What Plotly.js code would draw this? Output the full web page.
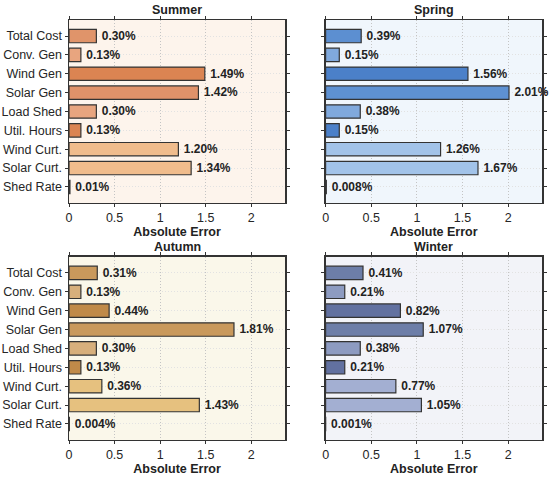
<!DOCTYPE html>
<html><head><meta charset="utf-8">
<script src="https://cdn.plot.ly/plotly-3.0.1.min.js"></script>
<style>html,body{margin:0;padding:0;background:#fff}#chart{width:550px;height:477px}</style>
</head><body><div id="chart"></div>
<script>
const categories = ["Total Cost","Conv. Gen","Wind Gen","Solar Gen","Load Shed","Util. Hours","Wind Curt.","Solar Curt.","Shed Rate"];
const seasons = ["Summer","Spring","Autumn","Winter"];
const summerVals = [0.30,0.13,1.49,1.42,0.30,0.13,1.20,1.34,0.01];
const springVals = [0.39,0.15,1.56,2.01,0.38,0.15,1.26,1.67,0.008];
const autumnVals = [0.31,0.13,0.44,1.81,0.30,0.13,0.36,1.43,0.004];
const winterVals = [0.41,0.21,0.82,1.07,0.38,0.21,0.77,1.05,0.001];
const xTickVals = [0,0.5,1,1.5,2];
const xTickText = ["0","0.5","1","1.5","2"];

const summerColors = ["#E0946A","#E8A57F","#DB8452","#E0926A","#E8A57F","#DB8452","#F0BC8C","#F0BC8C","#F0BC8C"];
const springColors = ["#5C8FD1","#80A9DD","#4B80C9","#5E91D2","#80A9DD","#4B80C9","#A2C3E9","#A2C3E9","#A2C3E9"];
const autumnColors = ["#C9995C","#D7AF7C","#C08A49","#C9995C","#D7AF7C","#C08A49","#E6C17F","#E6C17F","#E6C17F"];
const winterColors = ["#6D7EA8","#8D9BC1","#6271A0","#6D7EA8","#8D9BC1","#6271A0","#A3AFD2","#A3AFD2","#A3AFD2"];
const bgColors = ["#FDF4EC","#F0F6FC","#FAF7EA","#F2F3F8"];

const allVals = [summerVals,springVals,autumnVals,winterVals];
const allColors = [summerColors,springColors,autumnColors,winterColors];
const xmax = Math.max(...allVals.flat())*1.18;

const fmt = v => "\u2009" + (v < 0.01 ? v.toFixed(3) : v.toFixed(2)) + "%";
const FONT = "Liberation Sans, Arial, Helvetica, sans-serif";

const xDomains = [[0.1255,0.5185],[0.592,0.9855],[0.1255,0.5185],[0.592,0.9855]];
const yDomains = [[0.5745,0.958],[0.5745,0.958],[0.0776,0.4615],[0.0776,0.4615]];

const data = [];
const layout = {
  width:550, height:477, margin:{l:0,r:0,t:0,b:0},
  paper_bgcolor:"#ffffff", showlegend:false, bargap:0.29,
  font:{family:FONT, size:12, color:"#222"},
  annotations:[], shapes:[]
};

for (let i=0;i<4;i++){
  const sfx = i===0 ? "" : String(i+1);
  data.push({
    type:"bar", orientation:"h",
    x: allVals[i], y: categories,
    xaxis:"x"+sfx, yaxis:"y"+sfx,
    marker:{color: allColors[i], line:{color:"#333333", width:1.2}},
    text: allVals[i].map(fmt), textposition:"outside", cliponaxis:false,
    textfont:{family:FONT, size:12.5, color:"#222", weight:"bold"},
    hoverinfo:"none"
  });
  layout["xaxis"+sfx] = {
    domain:xDomains[i], anchor:"y"+sfx, range:[0,xmax],
    tickvals:xTickVals, ticktext:xTickText,
    ticks:"outside", ticklen:3, tickcolor:"#333",
    showline:true, linecolor:"#333", linewidth:1.5, mirror:"ticks",
    showgrid:true, gridcolor:"#c4c4c4", griddash:"1px,2px", gridwidth:1,
    zeroline:false, tickfont:{family:FONT, size:12.5, color:"#262626"},
    title:{text:"Absolute Error", font:{family:FONT, size:12.5, color:"#222", weight:"bold"}, standoff:3}
  };
  layout["yaxis"+sfx] = {
    domain:yDomains[i], anchor:"x"+sfx, type:"category",
    categoryorder:"array", categoryarray:categories,
    range:[8.85,-0.85],
    ticks:"outside", ticklen:3, tickcolor:"#333",
    showline:true, linecolor:"#333", linewidth:1.5, mirror:"ticks",
    showgrid:true, gridcolor:"#e2e2e2", griddash:"1px,2px", gridwidth:1,
    showticklabels: (i%2===0),
    tickfont:{family:FONT, size:12.5, color:"#262626"}
  };
  layout.shapes.push({type:"rect", xref:"x"+sfx+" domain", yref:"y"+sfx+" domain",
    x0:0,x1:1,y0:0,y1:1, fillcolor:bgColors[i], line:{width:0}, layer:"below"});
  layout.annotations.push({
    text:"<b>"+seasons[i]+"</b>", xref:"x"+sfx+" domain", yref:"y"+sfx+" domain",
    x:0.5, y:1, yanchor:"bottom", yshift:1, showarrow:false,
    font:{family:FONT, size:12.5, color:"#222"}
  });
}

Plotly.newPlot("chart", data, layout, {staticPlot:true, displayModeBar:false});
</script></body></html>
